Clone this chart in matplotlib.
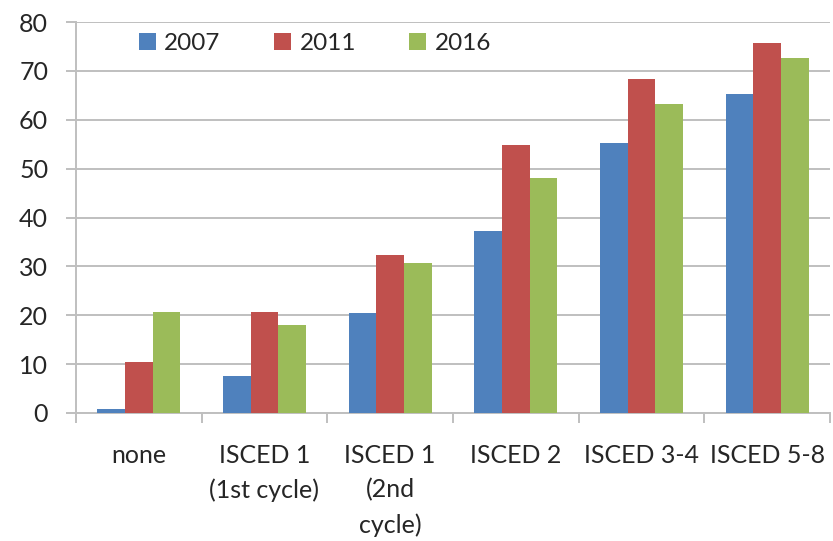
import matplotlib.pyplot as plt
import numpy as np

plt.rcParams['font.family'] = ['Lato', 'DejaVu Sans']

categories = ['none', 'ISCED 1\n(1st cycle)', 'ISCED 1\n(2nd\ncycle)',
              'ISCED 2', 'ISCED 3-4', 'ISCED 5-8']
years = ['2007', '2011', '2016']
v2007 = [0.8, 7.6, 20.4, 37.2, 55.2, 65.2]
v2011 = [10.5, 20.7, 32.4, 54.8, 68.3, 75.7]
v2016 = [20.7, 18.1, 30.7, 48.0, 63.3, 72.7]
colors = ['#4F81BD', '#C0504D', '#9BBB59']

fig = plt.figure(figsize=(8.33, 5.41), dpi=100)
ax = fig.add_axes([0.0912, 0.2366, 0.9052, 0.7227])

x = np.arange(len(categories))
w = 0.22
for i, (vals, yr) in enumerate(zip([v2007, v2011, v2016], years)):
    ax.bar(x + (i - 1) * w, vals, w, color=colors[i], label=yr, zorder=3)

grid_c = '#BFBFBF'
txt_c = '#262626'
ax.set_ylim(0, 80)
ax.set_xlim(-0.5, len(categories) - 0.5)
ax.set_yticks(range(0, 81, 10))
ax.yaxis.grid(True, color=grid_c, linewidth=1.4, zorder=0)

# category boundaries as major ticks, labels on minor ticks
ax.set_xticks(np.arange(-0.5, len(categories), 1.0))
ax.set_xticklabels([])
ax.set_xticks(x, minor=True)
ax.set_xticklabels(categories, minor=True, linespacing=1.6)
ax.tick_params(axis='x', which='major', length=7, width=1.4, color=grid_c)
ax.tick_params(axis='x', which='minor', length=0, pad=22, labelsize=18, colors=txt_c)
ax.tick_params(axis='y', length=7, width=1.4, color=grid_c, pad=13,
               labelsize=18, labelcolor=txt_c)

for s in ['top', 'right']:
    ax.spines[s].set_visible(False)
for s in ['left', 'bottom']:
    ax.spines[s].set_color(grid_c)
    ax.spines[s].set_linewidth(1.4)

leg = ax.legend(loc='center', bbox_to_anchor=(0.317, 0.946), ncol=3, frameon=False,
                fontsize=17.5, handlelength=0.7, handleheight=0.7, handletextpad=0.35,
                columnspacing=2.2)
for t in leg.get_texts():
    t.set_color(txt_c)

fig.savefig('out.png', dpi=100)
